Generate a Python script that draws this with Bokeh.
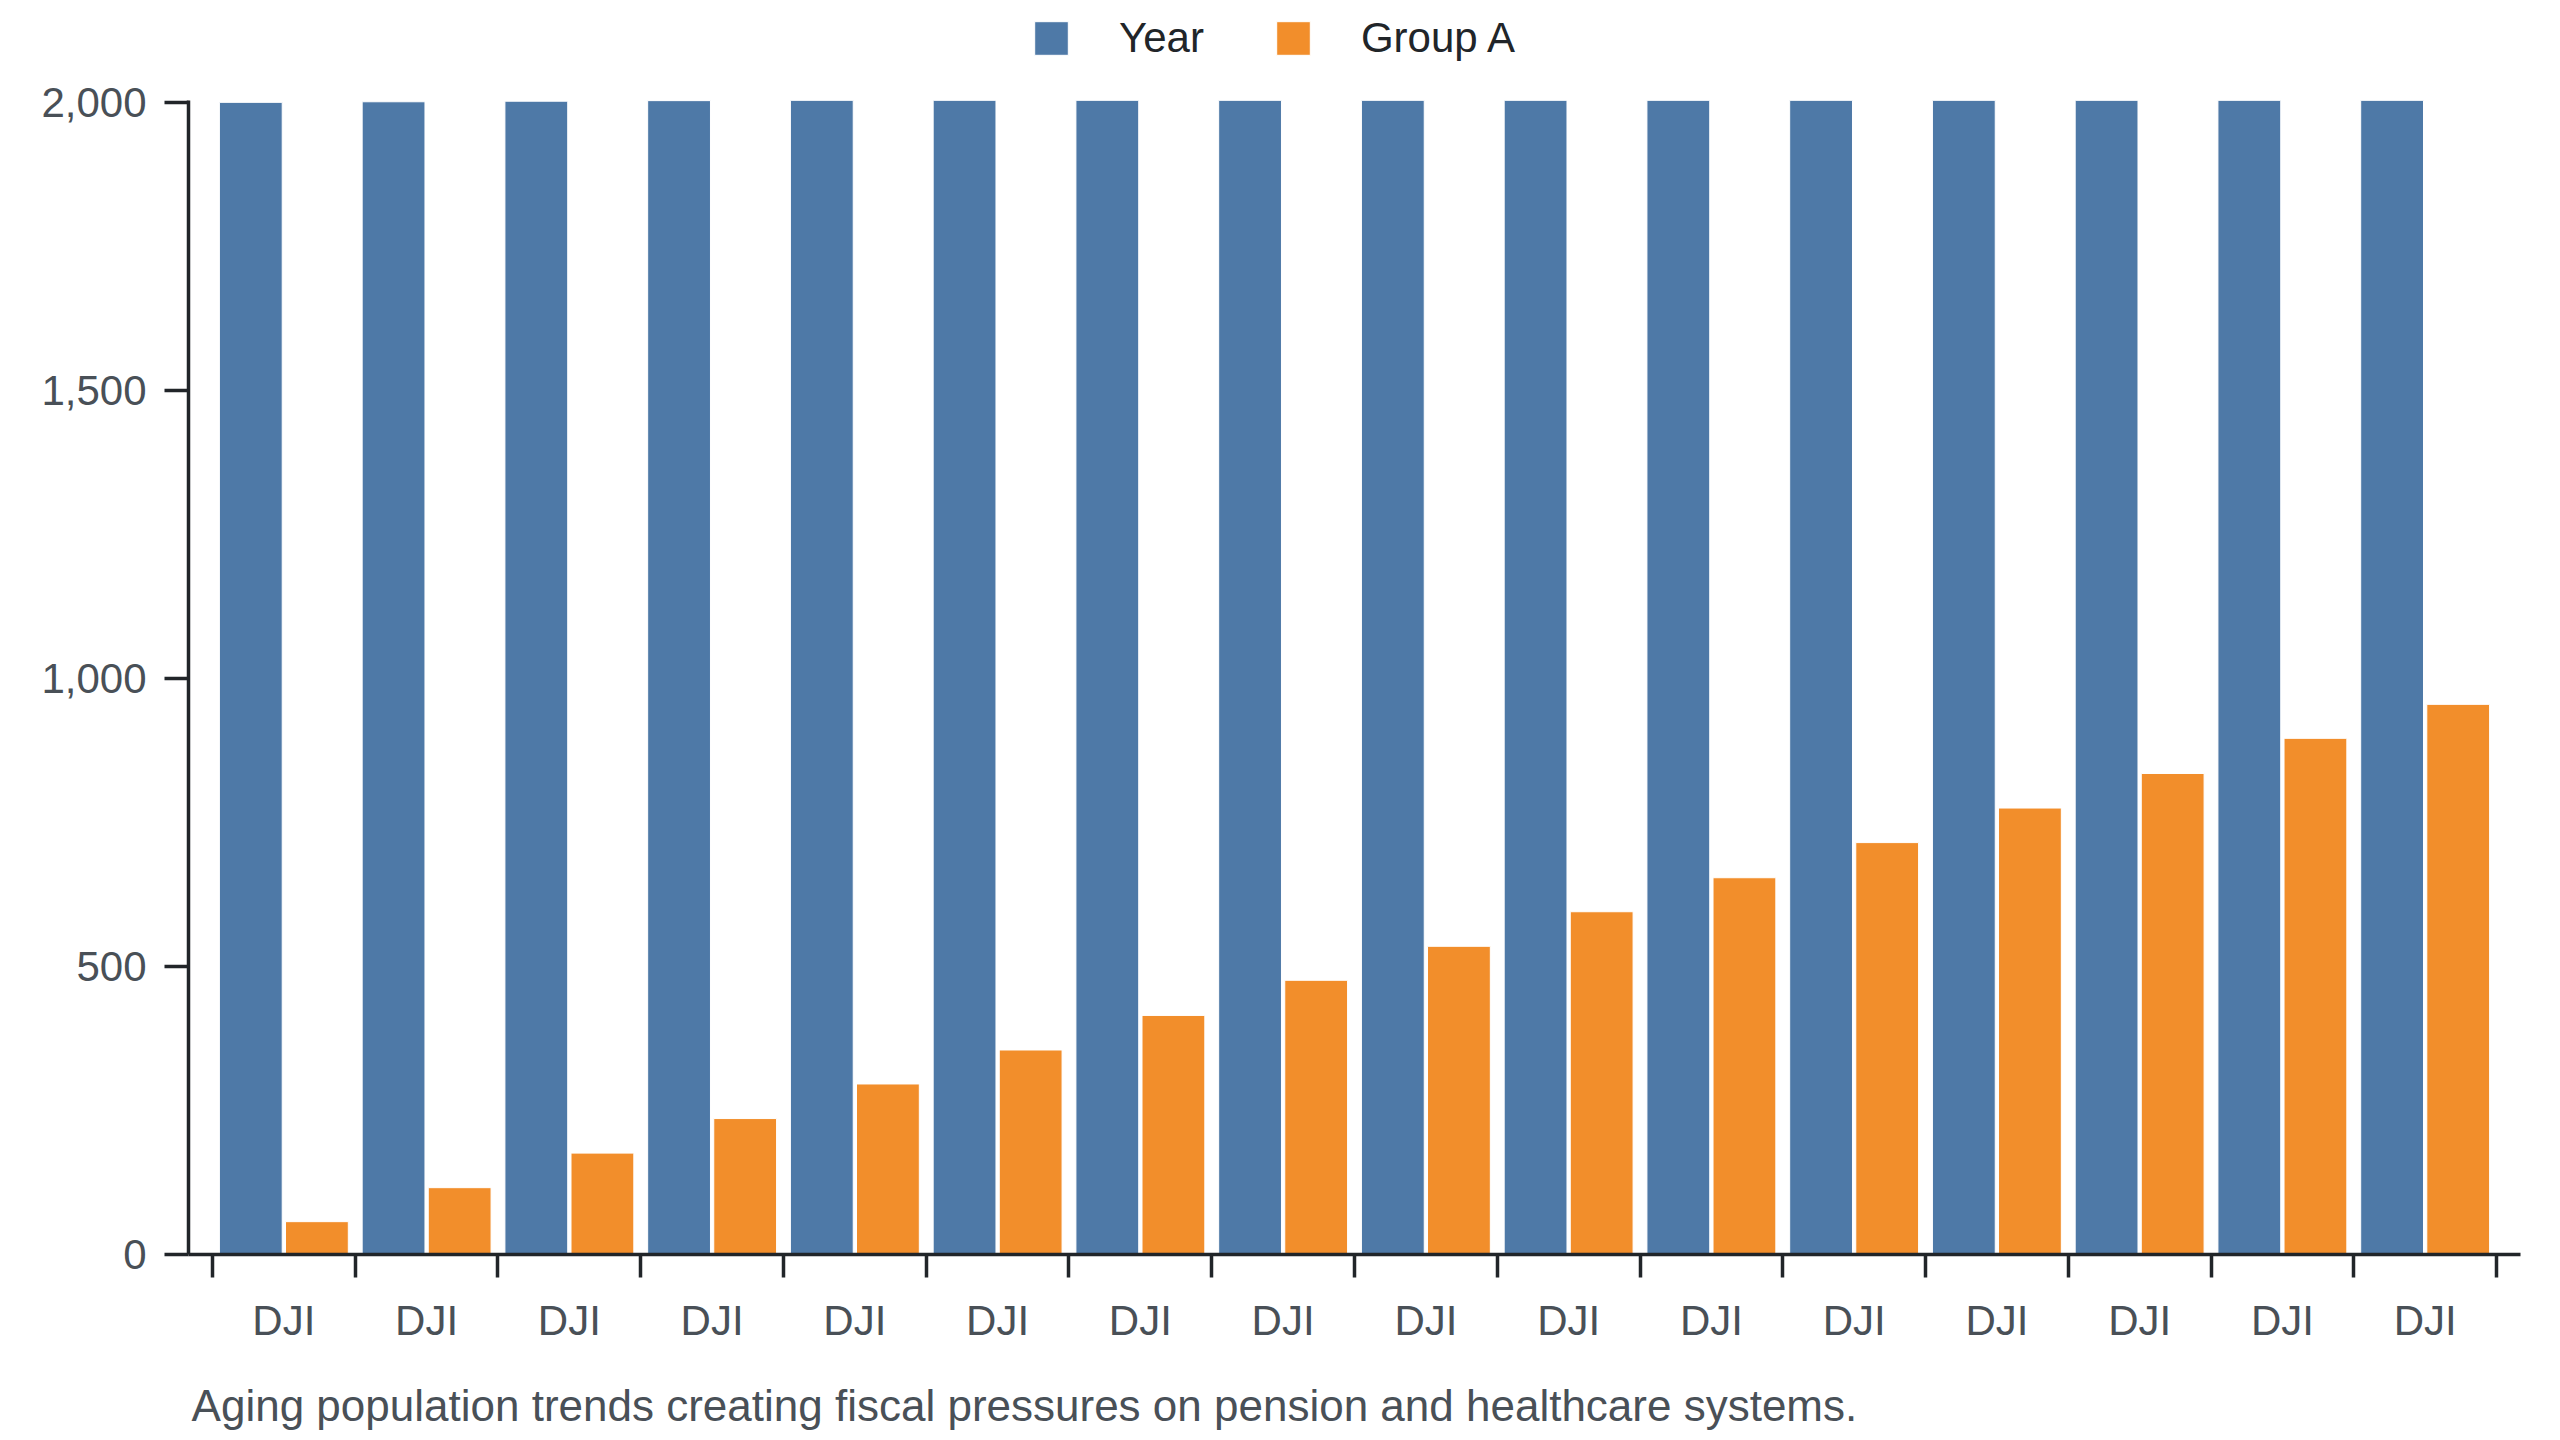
import numpy as np
from bokeh.plotting import figure
from bokeh.models import (ColumnDataSource, Range1d, LinearAxis, FixedTicker,
                          NumeralTickFormatter, Legend, LegendItem)
from bokeh.transform import dodge
from bokeh.embed import file_html
from bokeh.resources import INLINE

# ---- data ----
categories = ["DJI"] * 16
year = [2000, 2001, 2002, 2003, 2004, 2005, 2006, 2007,
        2008, 2009, 2010, 2011, 2012, 2013, 2014, 2015]
group_a = [57, 116, 176, 236, 296, 355, 415, 476,
           535, 595, 654, 715, 775, 835, 896, 955]
y_ticks = [0, 500, 1000, 1500, 2000]
caption = "Aging population trends creating fiscal pressures on pension and healthcare systems."

FONT = "Liberation Sans"
AXIS_COLOR = "#212529"
TICK_TEXT = "#495057"
BLUE = "#4e79a7"
ORANGE = "#f28e2b"

# layout constants (figure pixels)
W, H = 2552, 1432
FRAME_LEFT, FRAME_RIGHT = 188, 2520
FRAME_TOP, AXIS_TOP, FRAME_BOTTOM = 0, 100, 1256
Y_AXIS_MAX = 2003.5           # value at the top end of the y axis (scale is clamped there)
y_end = Y_AXIS_MAX * (FRAME_BOTTOM - FRAME_TOP) / (FRAME_BOTTOM - AXIS_TOP)

n = len(categories)
centers = [i + 0.5 for i in range(n)]
src = ColumnDataSource(dict(x=centers, year=year, group_a=group_a,
                            year_shown=np.minimum(year, Y_AXIS_MAX)))

p = figure(width=W, height=H, output_backend="svg", toolbar_location=None,
           x_range=Range1d(-0.168, n + 0.168), y_range=Range1d(0, y_end),
           x_axis_type=None, y_axis_type=None,
           min_border_left=FRAME_LEFT, min_border_right=W - FRAME_RIGHT,
           min_border_top=FRAME_TOP, min_border_bottom=H - FRAME_BOTTOM)
p.outline_line_color = None
p.xgrid.visible = False
p.ygrid.visible = False
p.background_fill_color = "white"
p.border_fill_color = "white"

bw = 0.44
r1 = p.vbar(x=dodge("x", -0.2315, range=p.x_range), top="year_shown", width=bw, source=src,
            fill_color=BLUE, line_color="white", line_width=1)
r2 = p.vbar(x=dodge("x", 0.2315, range=p.x_range), top="group_a", width=bw, source=src,
            fill_color=ORANGE, line_color="white", line_width=1)

# y axis
yax = LinearAxis(ticker=FixedTicker(ticks=y_ticks, minor_ticks=[]),
                 formatter=NumeralTickFormatter(format="0,0"), bounds=(0, Y_AXIS_MAX))
yax.axis_line_color = AXIS_COLOR
yax.axis_line_width = 3.5
yax.major_tick_line_color = AXIS_COLOR
yax.major_tick_line_width = 3.5
yax.major_tick_out = 24
yax.major_tick_in = 0
yax.minor_tick_line_color = None
yax.major_label_standoff = 18
yax.major_label_text_font = FONT
yax.major_label_text_font_size = "42px"
yax.major_label_text_color = TICK_TEXT
p.add_layout(yax, "left")

# x axis: labels at centres, tick marks at band boundaries, caption as axis label
xax = LinearAxis(ticker=FixedTicker(ticks=centers, minor_ticks=list(range(n + 1))))
xax.major_label_overrides = {c: lab for c, lab in zip(centers, categories)}
xax.axis_line_color = AXIS_COLOR
xax.axis_line_width = 3.5
xax.major_tick_line_color = None
xax.major_tick_out = 0
xax.major_tick_in = 0
xax.minor_tick_line_color = AXIS_COLOR
xax.minor_tick_line_width = 3.5
xax.minor_tick_out = 23
xax.minor_tick_in = 0
xax.major_label_standoff = 19
xax.major_label_text_font = FONT
xax.major_label_text_font_size = "42px"
xax.major_label_text_color = TICK_TEXT
# centred caption padded with trailing no-break spaces so that its visible
# text starts at the left edge of the frame
xax.axis_label = caption + "\u00a0" * 54
xax.axis_label_align = "center"
xax.axis_label_standoff = 34
xax.axis_label_text_font = FONT
xax.axis_label_text_font_size = "44px"
xax.axis_label_text_font_style = "normal"
xax.axis_label_text_color = TICK_TEXT
p.add_layout(xax, "below")

# legend (inside the frame, above the axis top)
legend = Legend(items=[LegendItem(label="Year", renderers=[r1]),
                       LegendItem(label="Group A", renderers=[r2])],
                orientation="horizontal", location=(842, 1192))
legend.label_text_font = FONT
legend.label_text_font_size = "42px"
legend.label_text_color = AXIS_COLOR
legend.glyph_width = 42
legend.glyph_height = 42
legend.label_standoff = 47
legend.spacing = 68
legend.padding = 0
legend.margin = 0
legend.border_line_color = None
legend.background_fill_alpha = 0
p.add_layout(legend, "center")

open("out.html", "w").write(file_html(p, INLINE))
